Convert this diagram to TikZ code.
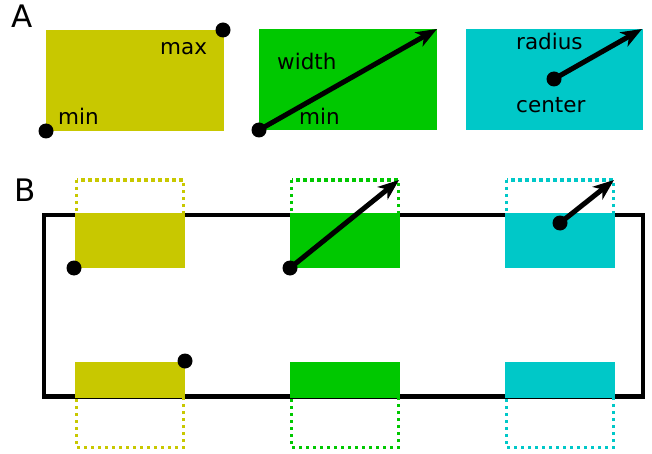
\documentclass[tikz,border=0pt]{standalone}
\usepackage{fontspec}
\setmainfont{DejaVu Sans}
\usetikzlibrary{arrows.meta,positioning}
\definecolor{boxyellow}{RGB}{200,200,0}
\definecolor{boxgreen}{RGB}{0,200,0}
\definecolor{boxcyan}{RGB}{0,200,200}

\begin{document}
\begin{tikzpicture}[x=1pt,y=-1pt,
  dot/.style={circle,fill=black,inner sep=0pt,minimum size=15pt},
  vec/.style={line width=5pt,-{Stealth[length=21pt,width=16pt,inset=6pt]}},
  lbl/.style={anchor=base west,inner sep=0pt,font=\fontsize{21.5}{24}\selectfont},
  panel/.style={anchor=base west,inner sep=0pt,font=\fontsize{31}{34}\selectfont},
  ghost/.style={line width=3.2pt,dash pattern=on 3.2pt off 3.8pt}]
  \useasboundingbox (0,0) rectangle (652,454);

  \node[panel] (pa) at (11,28) {A};
  \node[panel] (pb) at (14,202) {B};

  \fill[boxyellow] (46,30) rectangle (224,131);
  \fill[boxgreen] (259,29) rectangle (437,130);
  \fill[boxcyan] (466,29) rectangle (643,130);
  \node[lbl] (maxa) at (160,55) {max};
  \node[lbl] (mina) at (58,125) {min};
  \node[lbl] (widtha) at (277,70) {width};
  \node[lbl] (minb) at (299,125) {min};
  \node[lbl] (radiusa) at (516,50) {radius};
  \node[lbl] (centera) at (516,113) {center};
  \node[dot] (ymin) at (46,131) {};
  \node[dot] (ymax) at (223,30) {};
  \node[dot] (gmin) at (259,130) {};
  \node[dot] (cctr) at (554,79) {};
  \coordinate (gend) at (437,29);
  \coordinate (cend) at (642,29);
  \draw[vec] (gmin.center) -- (gend);
  \draw[vec] (cctr.center) -- (cend);

  \draw[line width=4.5pt] (44,215) rectangle (643,396.5);
  \draw[ghost,boxyellow] (76.5,180) rectangle (183.5,266);
  \draw[ghost,boxgreen] (291.5,180) rectangle (398.5,266);
  \draw[ghost,boxcyan] (506.5,180) rectangle (613.5,266);
  \draw[ghost,boxyellow] (76.5,364) rectangle (183.5,447.5);
  \draw[ghost,boxgreen] (291.5,364) rectangle (398.5,447.5);
  \draw[ghost,boxcyan] (506.5,364) rectangle (613.5,447.5);
  \fill[boxyellow] (75,213) rectangle (185,268);
  \fill[boxgreen] (290,213) rectangle (400,268);
  \fill[boxcyan] (505,213) rectangle (615,268);
  \fill[boxyellow] (75,362) rectangle (185,398);
  \fill[boxgreen] (290,362) rectangle (400,398);
  \fill[boxcyan] (505,362) rectangle (615,398);
  \node[dot] (ytop) at (74,268) {};
  \node[dot] (ybot) at (185,361) {};
  \node[dot] (gtop) at (290,268) {};
  \node[dot] (ctop) at (560,223) {};
  \coordinate (gtopend) at (399,180);
  \coordinate (ctopend) at (614,180);
  \draw[vec] (gtop.center) -- (gtopend);
  \draw[vec] (ctop.center) -- (ctopend);
\end{tikzpicture}
\end{document}
